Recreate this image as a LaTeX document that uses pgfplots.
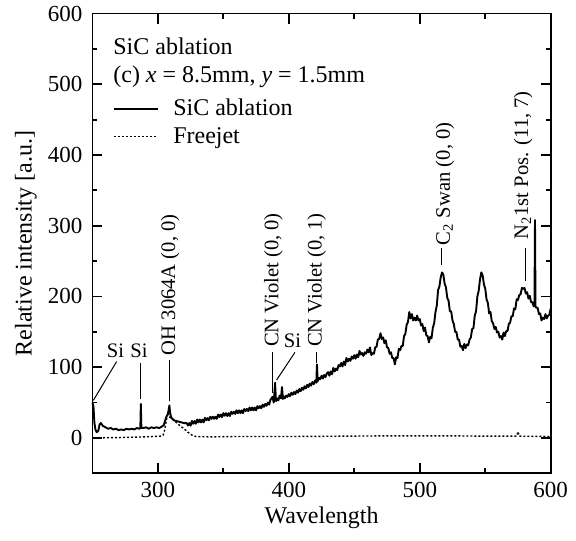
\documentclass[border=0pt]{standalone}
\usepackage{fontspec}
\setmainfont{Liberation Serif}
\usepackage{pgfplots}
\pgfplotsset{compat=1.18}

\begin{document}
\begin{tikzpicture}
\begin{axis}[
  name=ax,
  scale only axis, width=229.15pt, height=229.9pt,
  xmin=250, xmax=600, ymin=-50, ymax=600,
  xtick={300,400,500,600}, minor xtick={250,350,450,550},
  ytick={0,100,...,600}, minor ytick={-50,50,150,250,350,450,550},
  xtick pos=both, ytick pos=both,
  xticklabel pos=lower, yticklabel pos=left,
  tick align=inside, major tick length=5pt, minor tick length=2.5pt,
  every tick/.style={black, line width=0.9pt},
  axis line style={line width=0.9pt},
  /pgf/number format/assume math mode=true,
  tick label style={font=\fontsize{11.5}{13}\selectfont},
  xticklabel style={yshift=-1pt},
  yticklabel style={xshift=-1.5pt},
  label style={font=\fontsize{12}{14}\selectfont},
  xlabel={Wavelength},
  ylabel={Relative intensity [a.u.]},
  xlabel style={at={(axis description cs:0.5,-0.1081)}, anchor=base},
  ylabel style={at={(axis description cs:-0.1324,0.5)}, anchor=base},
  legend style={at={(axis cs:265.7,444)}, anchor=west, draw=none, fill=none,
    inner sep=0pt, outer sep=0pt, row sep=3.4pt, column sep=7.2pt,
    font=\fontsize{12}{14}\selectfont,
    nodes={inner sep=0pt, text height=8.2pt, text depth=2.4pt}},
  legend cell align=left,
  legend image code/.code={\draw[#1] (0pt,0.6pt) -- (22pt,0.6pt);},
  clip=false,
]
% SiC ablation
\addplot[black, line width=0.95pt, line join=round] coordinates {
(250,50) (250.8,45) (251.5,22) (252.3,12) (253.3,8) (254.5,10) (255.5,19) (256.5,21)
(258,17) (260,15) (262,13) (264,14) (266,12) (268,13) (270,11) (272,12) (274,11)
(276,13) (278,12) (280,13) (282,12) (284,14) (286,13) (286.6,14) (287,48) (287.4,14)
(289,14) (291,15) (293,13) (295,15) (297,14) (299,15) (301,14) (303,16) (304.5,18)
(305.5,24) (306.5,30) (307.5,33) (308.3,40) (308.8,46) (309.3,36) (310,30) (311,27)
(312,25) (314,24) (316,23) (318,22) (320,21)
(322,21) (323,17.5) (324,21) (325,17.4) (326,24) (327,20) (328,24) (329,20) (330,26)
(331,22) (332,26) (333,22) (334,26) (335,22) (336,28.5) (337,25) (338,28) (339,25)
(340,30) (341,27) (342,30) (343,27) (344,30) (345,27) (346,33) (347,29.6) (348,33)
(349,29.5) (350,35) (351,31.4) (352,35) (353,31) (354,35) (355,31) (356,37) (357,34)
(358,37) (359,34) (360,39) (361,35) (362,39) (363,35) (364,39) (365,35) (366,41)
(367,38) (368,41) (369,38) (370,43) (371,39) (372,43) (373,39) (374,43) (375,39)
(376,45) (377,42) (378,45) (379,42) (380,47) (381,44) (382,48) (383,45.5) (384,50)
(385,47) (386,54) (387.5,58) (388.5,50) (389.5,78) (390.2,52) (391,56) (392,53)
(393,60) (394,56) (394.8,72) (395.5,55) (396,59) (397,56) (398,60) (399,58) (400,62)
(401,59) (402,64) (403,61) (404,65) (405,62) (406,67) (407,64) (408,69) (409,66)
(410,71) (411,68) (412,73) (413,70) (414,75) (415,72) (416,77) (417,74) (418,79)
(419,76) (420,81) (421,78) (421.5,104) (422,80) (423,85) (424,83) (425,88) (426,84)
(427,89) (428,86) (429,91)
(430,93) (431,88) (432,94) (433,90) (434,99) (435,94) (436,98) (437,96) (438,103)
(439,101) (440,106) (441,101) (442,108) (443,103) (444,113) (445,108) (446,112)
(447,109) (448,115) (449,112) (450,117) (451,112) (452,118) (453,114) (454,123)
(455,118) (456,120) (457,116) (458,121) (459,119) (460,125) (461,121) (462,128)
(463,117) (464,120) (465,119) (466,128) (467,129) (468,139) (469,140) (470,148)
(471,140) (472,142) (473,134) (474,138) (475,128) (476,127) (477,119) (478,121)
(479,113) (480,113) (481,104) (482,114) (483,113) (484,126) (485,124) (486,130)
(487,130) (488,144) (489,147) (490,160) (491,164) (492,178) (493,169) (494,175)
(495,166) (496,170) (497,166) (498,173) (499,166) (500,168) (501,159) (502,161)
(503,151) (504,156) (505,145) (506,144) (507,135) (508,143) (509,141) (510,156)
(511,162) (512,178) (513,187) (514,209) (515,214) (516,227) (517,234) (518,231)
(519,218) (520,213) (521,198) (522,194) (523,179) (524,179) (525,166) (526,161)
(527,150) (528,150) (529,139) (530,139) (531,129) (532,130) (533,124) (534,133)
(535,127) (536,132) (537,131) (538,139) (539,142) (540,154) (541,155) (542,173)
(543,179) (544,200) (545,208) (546,224) (547,234) (548,230) (549,217) (550,211)
(551,196) (552,191) (553,176) (554,178) (555,165) (556,162) (557,154) (558,157)
(559,149) (560,150) (561,142) (562,144) (563,139) (564,149) (565,144) (566,151)
(567,151) (568,161) (569,163) (570,172) (571,172) (572,183) (573,182) (574,196)
(575,195) (576,202) (577,203) (578,212) (579,211) (580,212) (581,204) (582,206)
(583,197) (584,201) (585,192) (586,192) (587,186) (587.6,190) (588,308) (588.4,186)
(589,184) (590,184) (591,175) (592,176) (593,166) (594,170) (595,168) (596,175)
(597,169) (598,173) (599,174) (600,183)
};
\addlegendentry{SiC ablation}
% Freejet
\addplot[black, line width=0.7pt, dash pattern=on 1pt off 1pt] coordinates {
(252,0) (270,0.5) (290,1.5) (302,2.5) (304,4) (305,10) (306,20) (307,30) (307.8,36)
(308.6,30) (310,28) (312,26) (314,22) (317,17) (320,13) (323,8) (326,4) (329,2)
(340,1.5) (360,2) (400,2) (440,2.5) (480,3) (520,3) (550,2.5) (574,2.5) (575,9)
(576,2.5) (600,2)
};
\addlegendentry{Freejet}

% header text
\node[anchor=base west, inner sep=0pt, font=\fontsize{12}{14}\selectfont]
  at (axis cs:265.7,542) {SiC ablation};
\node[anchor=base west, inner sep=0pt, font=\fontsize{12}{14}\selectfont]
  at (axis cs:265.7,502) {(c) \textit{x} = 8.5mm, \textit{y} = 1.5mm};

% line annotations
\begin{scope}[every node/.style={inner sep=0pt, font=\fontsize{10.3}{12}\selectfont}]
\node[anchor=base] at (axis cs:267.6,113.7) {Si};
\draw[line width=0.5pt] (axis cs:268.5,108) -- (axis cs:250.7,53);
\node[anchor=base] at (axis cs:285.6,113.7) {Si};
\draw[line width=0.5pt] (axis cs:286.9,106) -- (axis cs:286.9,55);
\node[rotate=90, anchor=west] at (axis cs:309.3,116.5) {OH 3064A (0, 0)};
\draw[line width=0.5pt] (axis cs:308.5,110) -- (axis cs:308.5,52);
\node[rotate=90, anchor=west] at (axis cs:388.2,128) {CN Violet (0, 0)};
\draw[line width=0.5pt] (axis cs:387.5,121) -- (axis cs:387.5,64);
\node[anchor=base] at (axis cs:402.8,128) {Si};
\draw[line width=0.5pt] (axis cs:404.7,121) -- (axis cs:390.7,82);
\node[rotate=90, anchor=west] at (axis cs:421.3,128) {CN Violet (0, 1)};
\draw[line width=0.5pt] (axis cs:421.5,121) -- (axis cs:421.5,106);
\node[rotate=90, anchor=west] at (axis cs:519.3,272) {C\textsubscript{2} Swan (0, 0)};
\draw[line width=0.5pt] (axis cs:516.5,268) -- (axis cs:516.5,245);
\node[rotate=90, anchor=west] at (axis cs:579,280) {N\textsubscript{2}1st Pos. (11, 7)};
\draw[line width=0.5pt] (axis cs:580.4,268) -- (axis cs:580.4,222);
\end{scope}
\end{axis}
\pgfresetboundingbox
\path[use as bounding box] ([shift={(-46.2pt,-33.35pt)}]ax.south west)
  rectangle ([shift={(12.65pt,6.75pt)}]ax.north east);
\end{tikzpicture}
\end{document}
